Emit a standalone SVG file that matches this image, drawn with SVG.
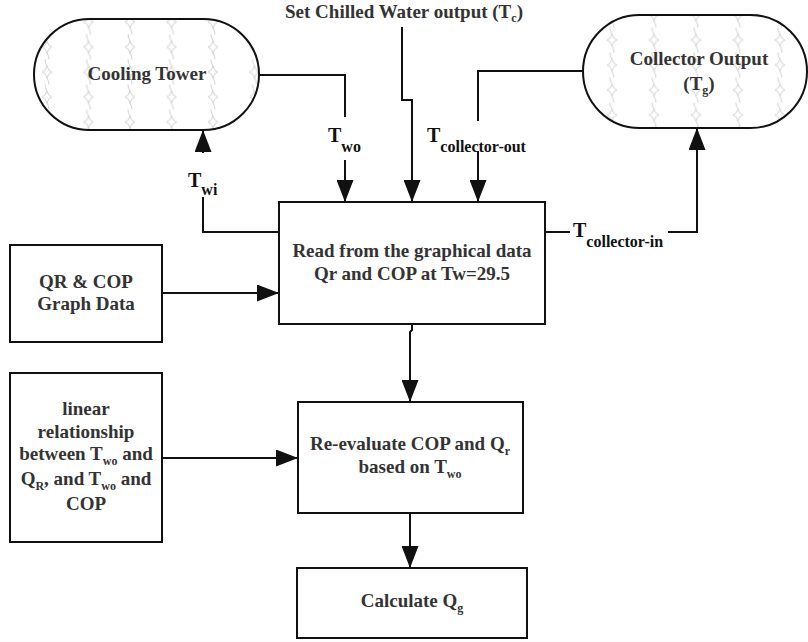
<svg xmlns="http://www.w3.org/2000/svg" width="808" height="642" viewBox="0 0 808 642">
<defs>
<style>
.box{fill:#fff;stroke:#111;stroke-width:2}
.cap{fill:none;stroke:#111;stroke-width:2}
.conn{fill:none;stroke:#111;stroke-width:2}
.pt{fill:none;stroke:#c4c4c4;stroke-width:0.8}
</style>
<marker id="ah" markerWidth="22" markerHeight="17" refX="22" refY="8.5" orient="auto" markerUnits="userSpaceOnUse">
<path d="M0,0L22,8.5L0,17z" fill="#111"/>
</marker>
<g id="tile">
<path class="pt" d="M20.75,6.5Q21.75,11.5 25.75,12.5Q21.75,13.5 20.75,18.5Q19.75,13.5 15.75,12.5Q19.75,11.5 20.75,6.5Z"/>
<path class="pt" d="M20.75,-6.5Q16.75,0 20.75,6.5M20.75,18.5Q24.75,25 20.75,31.5"/>
</g>
<pattern id="pat1" patternUnits="userSpaceOnUse" x="26.25" y="9.5" width="41.5" height="25"><use href="#tile"/></pattern>
<pattern id="pat2" patternUnits="userSpaceOnUse" x="591.25" y="2.5" width="42" height="25"><use href="#tile"/></pattern>
</defs>
<rect width="808" height="642" fill="#fff"/>

<g id="cooling-tower">
<rect x="34" y="19" width="225" height="111" rx="55.5" fill="url(#pat1)"/>
<rect class="cap" x="34" y="19" width="225" height="111" rx="55.5"/>
<text x="147" y="80" style="font-family:'Liberation Serif',serif;font-weight:bold;font-size:19px;fill:#333;text-anchor:middle">Cooling Tower</text>
</g>

<g id="collector-output">
<rect x="583" y="15" width="224" height="113" rx="56.5" fill="url(#pat2)"/>
<rect class="cap" x="583" y="15" width="224" height="113" rx="56.5"/>
<text x="699" y="65" style="font-family:'Liberation Serif',serif;font-weight:bold;font-size:19px;fill:#333;text-anchor:middle">Collector Output</text>
<text x="699" y="90" style="font-family:'Liberation Serif',serif;font-weight:bold;font-size:19px;fill:#333;text-anchor:middle">(T<tspan dy="4" style="font-size:12px">g</tspan><tspan dy="-4">)</tspan></text>
</g>

<g id="set-chilled">
<text x="404" y="18" style="font-family:'Liberation Serif',serif;font-weight:bold;font-size:19px;fill:#333;text-anchor:middle">Set Chilled Water output (T<tspan dy="4" style="font-size:12px">c</tspan><tspan dy="-4">)</tspan></text>
</g>

<g id="read-box">
<rect class="box" x="279" y="202" width="266" height="122"/>
<text x="412" y="257" style="font-family:'Liberation Serif',serif;font-weight:bold;font-size:19px;fill:#333;text-anchor:middle">Read from the graphical data</text>
<text x="412" y="280" style="font-family:'Liberation Serif',serif;font-weight:bold;font-size:19px;fill:#333;text-anchor:middle">Qr and COP at Tw=29.5</text>
</g>

<g id="qr-cop-box">
<rect class="box" x="10" y="245" width="152" height="97"/>
<text x="86" y="288" style="font-family:'Liberation Serif',serif;font-weight:bold;font-size:19px;fill:#333;text-anchor:middle">QR &amp; COP</text>
<text x="86" y="310" style="font-family:'Liberation Serif',serif;font-weight:bold;font-size:19px;fill:#333;text-anchor:middle">Graph Data</text>
</g>

<g id="linear-box">
<rect class="box" x="10" y="373" width="152" height="169"/>
<text x="86" y="415" style="font-family:'Liberation Serif',serif;font-weight:bold;font-size:19px;fill:#333;text-anchor:middle">linear</text>
<text x="86" y="438" style="font-family:'Liberation Serif',serif;font-weight:bold;font-size:19px;fill:#333;text-anchor:middle">relationship</text>
<text x="86" y="460" style="font-family:'Liberation Serif',serif;font-weight:bold;font-size:19px;fill:#333;text-anchor:middle">between T<tspan dy="5" style="font-size:12px">wo</tspan><tspan dy="-5"> and</tspan></text>
<text x="86" y="485" style="font-family:'Liberation Serif',serif;font-weight:bold;font-size:19px;fill:#333;text-anchor:middle">Q<tspan dy="5" style="font-size:12px">R</tspan><tspan dy="-5">, and T</tspan><tspan dy="5" style="font-size:12px">wo</tspan><tspan dy="-5"> and</tspan></text>
<text x="86" y="510" style="font-family:'Liberation Serif',serif;font-weight:bold;font-size:19px;fill:#333;text-anchor:middle">COP</text>
</g>

<g id="reevaluate-box">
<rect class="box" x="298" y="402" width="225" height="111"/>
<text x="410" y="450" style="font-family:'Liberation Serif',serif;font-weight:bold;font-size:19px;fill:#333;text-anchor:middle">Re-evaluate COP and Q<tspan dy="5" style="font-size:12px">r</tspan></text>
<text x="410" y="473" style="font-family:'Liberation Serif',serif;font-weight:bold;font-size:19px;fill:#333;text-anchor:middle">based on T<tspan dy="5" style="font-size:12px">wo</tspan></text>
</g>

<g id="calculate-box">
<rect class="box" x="297" y="568" width="230" height="70"/>
<text x="412" y="607" style="font-family:'Liberation Serif',serif;font-weight:bold;font-size:19px;fill:#333;text-anchor:middle">Calculate Q<tspan dy="5" style="font-size:12px">g</tspan></text>
</g>

<g id="connectors">
<path class="conn" d="M259,75H345V117"/>
<path class="conn" d="M345,160V202" marker-end="url(#ah)"/>
<path class="conn" d="M402,27V100H412V202" marker-end="url(#ah)"/>
<path class="conn" d="M583,71H478V121"/>
<path class="conn" d="M478,151V202" marker-end="url(#ah)"/>
<path class="conn" d="M279,232H203V197"/>
<path class="conn" d="M203,153V130" marker-end="url(#ah)"/>
<path class="conn" d="M545,232H570"/>
<path class="conn" d="M668,232H697V128" marker-end="url(#ah)"/>
<path class="conn" d="M162,293H279" marker-end="url(#ah)"/>
<path class="conn" d="M162,458H298" marker-end="url(#ah)"/>
<path class="conn" d="M412,324V330L410,332V402" marker-end="url(#ah)"/>
<path class="conn" d="M410,513V568" marker-end="url(#ah)"/>
<text x="328" y="142" style="font-family:'Liberation Serif',serif;font-weight:bold;font-size:20px;fill:#111">T<tspan dy="10" style="font-size:16px">wo</tspan></text>
<text x="427" y="142" style="font-family:'Liberation Serif',serif;font-weight:bold;font-size:20px;fill:#111">T<tspan dy="10" style="font-size:16px">collector-out</tspan></text>
<text x="188" y="187" style="font-family:'Liberation Serif',serif;font-weight:bold;font-size:20px;fill:#111">T<tspan dy="8" style="font-size:16px">wi</tspan></text>
<text x="573" y="237" style="font-family:'Liberation Serif',serif;font-weight:bold;font-size:20px;fill:#111">T<tspan dy="10" style="font-size:16px">collector-in</tspan></text>
</g>
</svg>
